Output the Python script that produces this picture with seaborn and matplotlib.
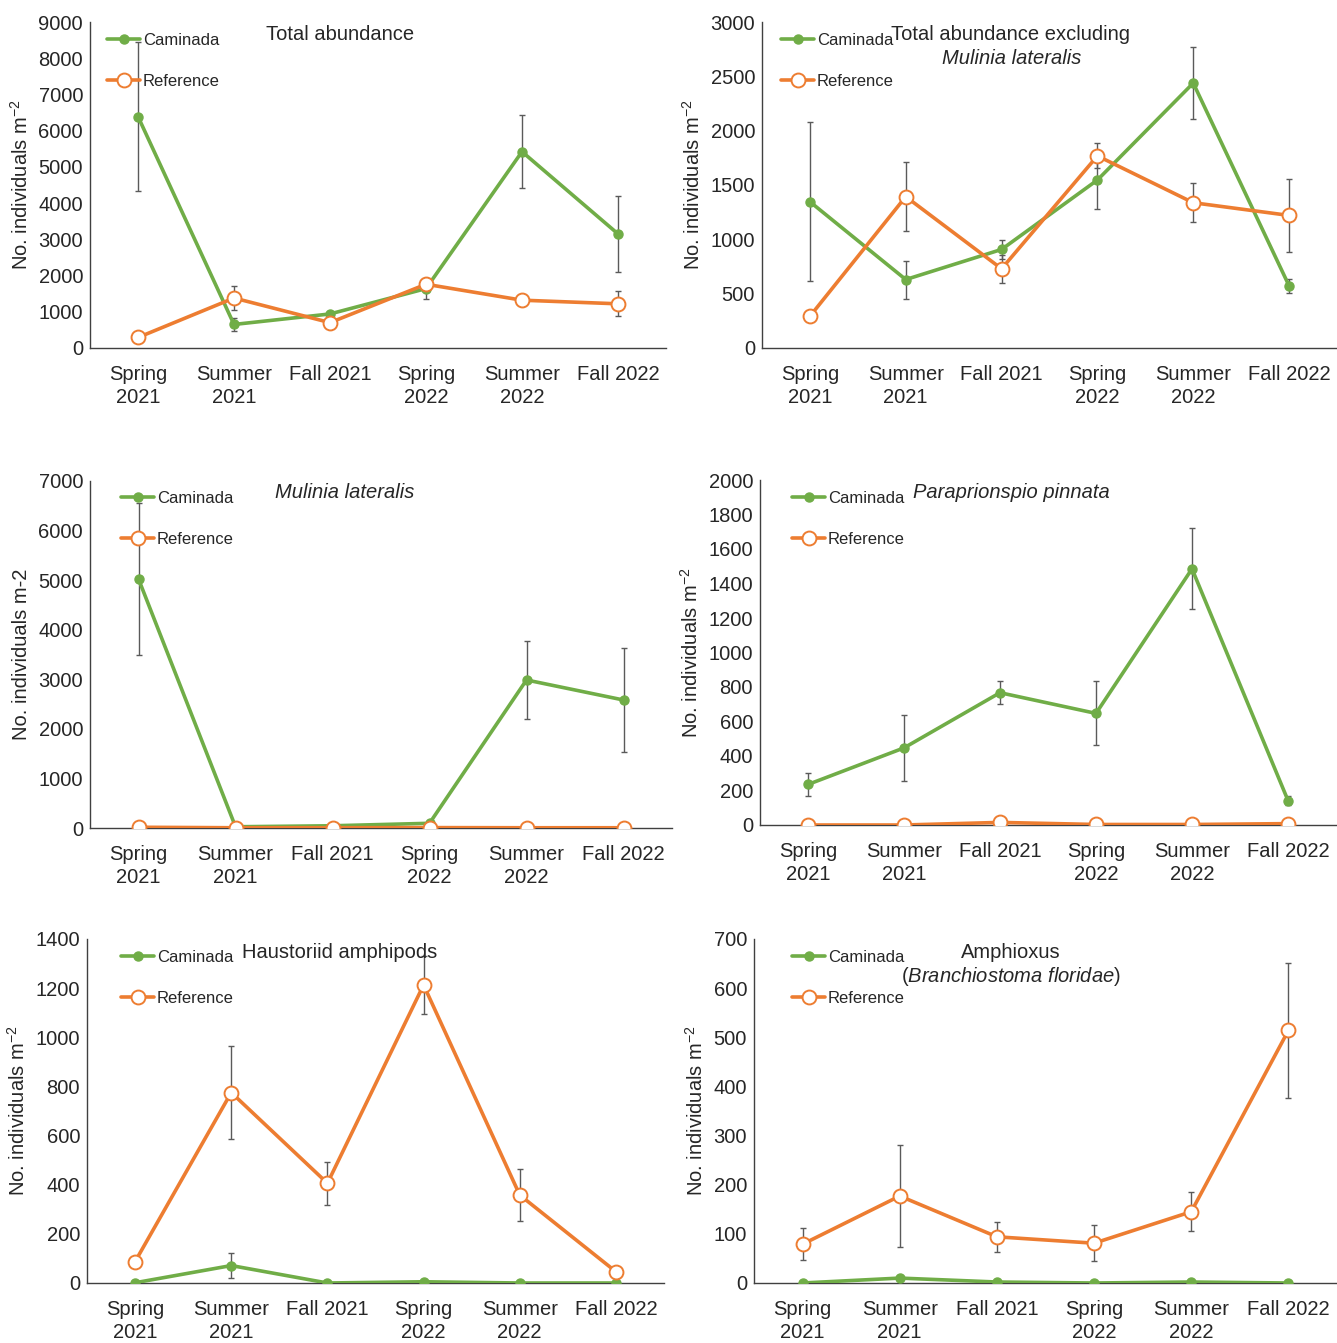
import numpy as np
import pandas as pd
import matplotlib
matplotlib.use("Agg")
import matplotlib.pyplot as plt
import seaborn as sns

# ---------------------------------------------------------------- data
seasons = ["Spring\n2021", "Summer\n2021", "Fall 2021",
           "Spring\n2022", "Summer\n2022", "Fall 2022"]
sites = ["Caminada", "Reference"]

# Total abundance
total_cam = [6390, 650, 940, 1640, 5420, 3150]
total_cam_se = [2060, 170, 60, 300, 1010, 1040]
total_ref = [290, 1380, 700, 1760, 1320, 1220]
total_ref_se = [40, 330, 90, 120, 170, 340]

# Total abundance excluding Mulinia lateralis
excl_cam = [1346, 630, 907, 1546, 2438, 572]
excl_cam_se = [733, 175, 85, 270, 332, 65]
excl_ref = [292, 1393, 729, 1768, 1337, 1220]
excl_ref_se = [30, 320, 130, 116, 177, 335]

# Mulinia lateralis
mul_cam = [5024, 25, 45, 95, 2986, 2582]
mul_cam_se = [1530, 10, 15, 30, 795, 1050]
mul_ref = [15, 5, 5, 8, 5, 5]
mul_ref_se = [5, 2, 2, 3, 2, 2]

# Paraprionspio pinnata
para_cam = [235, 447, 767, 647, 1485, 142]
para_cam_se = [67, 190, 66, 185, 234, 25]
para_ref = [0, 0, 15, 3, 3, 8]
para_ref_se = [0, 0, 5, 2, 2, 4]

# Haustoriid amphipods
haus_cam = [1, 71, 0, 5, 0, 0]
haus_cam_se = [1, 50, 0, 3, 0, 0]
haus_ref = [87, 775, 406, 1213, 358, 46]
haus_ref_se = [10, 190, 88, 118, 105, 10]

# Amphioxus (Branchiostoma floridae)
amph_cam = [0, 10, 2, 0, 2, 0]
amph_cam_se = [0, 4, 1, 0, 1, 0]
amph_ref = [79, 177, 94, 81, 145, 514]
amph_ref_se = [32, 103, 30, 37, 40, 138]

# ---------------------------------------------------------------- style
sns.set_style("white")
plt.rcParams["font.family"] = ["Liberation Sans", "DejaVu Sans"]
plt.rcParams["mathtext.fontset"] = "custom"
plt.rcParams["mathtext.rm"] = "Liberation Sans"
plt.rcParams["mathtext.it"] = "Liberation Sans:italic"

GREEN = "#70AD47"
ORANGE = "#ED7D31"
ERR = "#5A5A5A"
TXT = "#262626"
FS = 14.5      # tick, axis and panel title text
LEG_FS = 12    # legend text

W, H = 1337, 1343
fig = plt.figure(figsize=(W / 100, H / 100), dpi=100)
fig.patch.set_facecolor("white")


def fx(x):
    return x / W


def fy(y):
    return 1 - y / H


def panel(box, cam, cam_se, ref, ref_se, ymax, ystep, ylabel, leg_xy):
    left, top, right, bottom = box
    ax = fig.add_axes([fx(left), fy(bottom), (right - left) / W, (bottom - top) / H])
    df = pd.DataFrame({
        "season": seasons * 2,
        "site": [sites[0]] * 6 + [sites[1]] * 6,
        "mean": list(cam) + list(ref),
        "se": list(cam_se) + list(ref_se),
    })
    styles = {
        "Caminada": dict(color=GREEN, marker="o", markersize=6.5,
                         markerfacecolor=GREEN, markeredgecolor=GREEN,
                         markeredgewidth=1.0),
        "Reference": dict(color=ORANGE, marker="o", markersize=10,
                          markerfacecolor="white", markeredgecolor=ORANGE,
                          markeredgewidth=1.4),
    }
    for site in sites:
        sub = df[df["site"] == site]
        # error bars sit beneath the series lines and markers
        ax.errorbar(sub["season"], sub["mean"], yerr=sub["se"], fmt="none",
                    ecolor=ERR, elinewidth=1.0, capsize=2.5, capthick=1.0,
                    zorder=2)
    for i, site in enumerate(sites):
        sub = df[df["site"] == site]
        sns.lineplot(data=sub, x="season", y="mean", ax=ax, sort=False,
                     errorbar=None, linewidth=2.6, label=site, zorder=3 + i,
                     **styles[site])

    ax.set_xlim(-0.5, 5.5)
    ax.set_ylim(0, ymax)
    ax.set_yticks(np.arange(0, ymax + ystep / 2, ystep))
    ax.set_xlabel("")
    ax.set_ylabel(ylabel, fontsize=FS, color=TXT, labelpad=5)
    ax.tick_params(axis="both", length=0, labelsize=FS, labelcolor=TXT)
    ax.tick_params(axis="x", pad=12)
    ax.tick_params(axis="y", pad=5)
    for t in ax.get_xticklabels():
        t.set_linespacing(1.3)
    for s in ["top", "right"]:
        ax.spines[s].set_visible(False)
    for s in ["left", "bottom"]:
        ax.spines[s].set_color("#404040")
        ax.spines[s].set_linewidth(1.0)
    ax.set_facecolor("white")

    handles, labels = ax.get_legend_handles_labels()
    lx, ly = leg_xy
    ax.legend(handles, labels, loc="upper left",
              bbox_to_anchor=(fx(lx), fy(ly)), bbox_transform=fig.transFigure,
              frameon=False, fontsize=LEG_FS, handlelength=2.0,
              handletextpad=0.15, labelspacing=1.55, borderpad=0,
              borderaxespad=0, labelcolor=TXT)
    return ax


ylab = r"No. individuals m$^{-2}$"

panel((90, 22, 666, 348), total_cam, total_cam_se, total_ref, total_ref_se,
      9000, 1000, ylab, (107, 33))
fig.text(fx(340), fy(35), "Total abundance", ha="center", va="center",
         fontsize=FS, color=TXT)

panel((762, 22, 1337, 348), excl_cam, excl_cam_se, excl_ref, excl_ref_se,
      3000, 500, ylab, (781, 33))
fig.text(fx(1011), fy(35), "Total abundance excluding", ha="center",
         va="center", fontsize=FS, color=TXT)
fig.text(fx(1012), fy(59), "Mulinia lateralis", ha="center", va="center",
         fontsize=FS, color=TXT, style="italic")

panel((90, 481, 672, 828), mul_cam, mul_cam_se, mul_ref, mul_ref_se,
      7000, 1000, "No. individuals m-2", (121, 491))
fig.text(fx(345), fy(493), "Mulinia lateralis", ha="center", va="center",
         fontsize=FS, color=TXT, style="italic")

panel((760, 480, 1336, 825), para_cam, para_cam_se, para_ref, para_ref_se,
      2000, 200, ylab, (792, 491))
fig.text(fx(1011), fy(493), "Paraprionspio pinnata", ha="center",
         va="center", fontsize=FS, color=TXT, style="italic")

panel((87, 939, 664, 1283), haus_cam, haus_cam_se, haus_ref, haus_ref_se,
      1400, 200, ylab, (121, 950))
fig.text(fx(340), fy(953), "Haustoriid amphipods", ha="center", va="center",
         fontsize=FS, color=TXT)

panel((754, 939, 1337, 1283), amph_cam, amph_cam_se, amph_ref, amph_ref_se,
      700, 100, ylab, (792, 950))
fig.text(fx(1011), fy(953), "Amphioxus", ha="center", va="center",
         fontsize=FS, color=TXT)
fig.text(fx(1011), fy(977), r"($\mathit{Branchiostoma\ floridae}$)",
         ha="center", va="center", fontsize=FS, color=TXT)

fig.savefig("out.png", dpi=100, facecolor="white")
